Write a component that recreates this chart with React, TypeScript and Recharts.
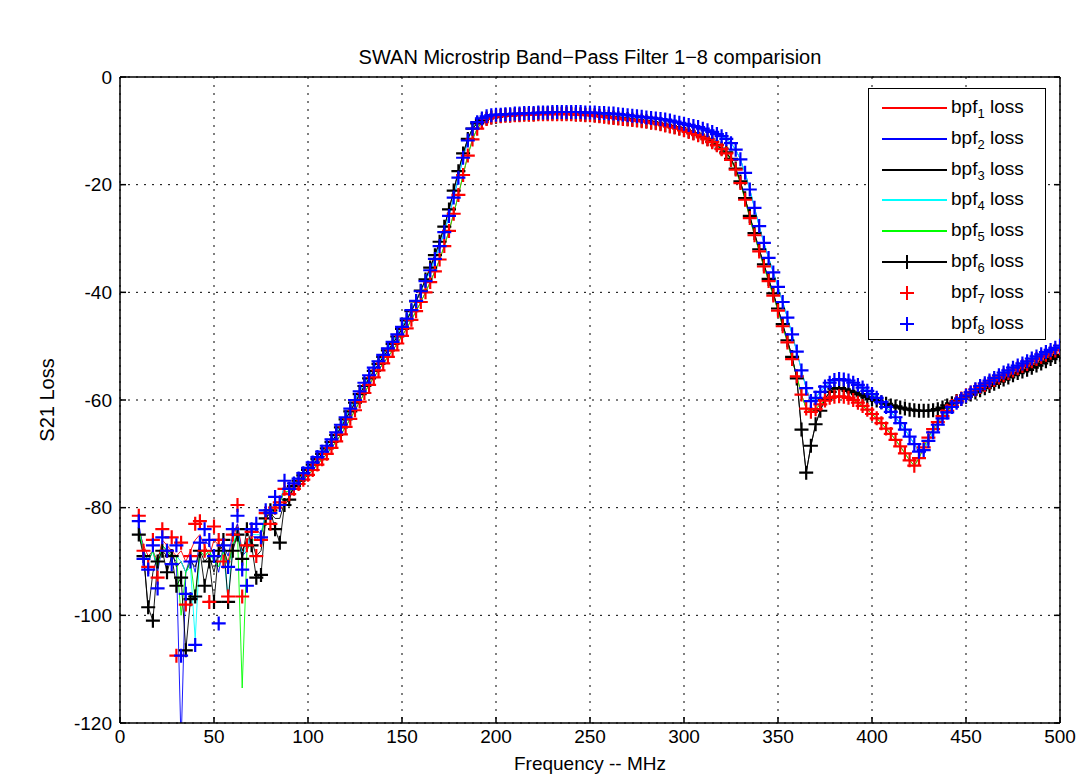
// SWAN microstrip band-pass filter comparison (S21 vs frequency)
import React from "react";
import { ComposedChart, Line, XAxis, YAxis, CartesianGrid } from "recharts";

const FONT = '"Liberation Sans", Arial, Helvetica, sans-serif';

// frequency (MHz) — noisy low-band part and the rest
const FREQ_LOW = [
  10, 12.5, 15, 17.5, 20, 22.5, 25, 27.5, 30, 32.5, 35, 37.5, 40, 42.5, 45, 47.5, 50,
  52.5, 55, 57.5, 60, 62.5, 65, 67.5, 70, 72.5, 75, 77.5, 80, 82.5, 85, 87.5, 90,
];
const FREQ_HIGH = [
  92.5, 95, 97.5, 100, 102.5, 105, 107.5, 110, 112.5, 115, 117.5, 120, 122.5, 125, 127.5, 130,
  132.5, 135, 137.5, 140, 142.5, 145, 147.5, 150, 152.5, 155, 157.5, 160, 162.5, 165, 167.5, 170,
  172.5, 175, 177.5, 180, 182.5, 185, 187.5, 190, 192.5, 195, 197.5, 200,
  202.5, 205, 207.5, 210, 212.5, 215, 217.5, 220, 222.5, 225, 227.5, 230, 232.5, 235, 237.5, 240,
  242.5, 245, 247.5, 250, 252.5, 255, 257.5, 260, 262.5, 265, 267.5, 270, 272.5, 275, 277.5, 280,
  282.5, 285, 287.5, 290, 292.5, 295, 297.5, 300, 302.5, 305, 307.5, 310, 312.5, 315, 317.5, 320,
  322.5, 325, 327.5, 330, 332.5, 335, 337.5, 340, 342.5, 345, 347.5, 350, 352.5, 355, 357.5, 360,
  362.5, 365, 367.5, 370, 372.5, 375, 377.5, 380,
  382.5, 385, 387.5, 390, 392.5, 395, 397.5, 400, 402.5, 405, 407.5, 410, 412.5, 415, 417.5, 420,
  422.5, 425, 427.5, 430, 432.5, 435, 437.5, 440, 442.5, 445, 447.5, 450, 452.5, 455, 457.5, 460,
  462.5, 465, 467.5, 470, 472.5, 475, 477.5, 480, 482.5, 485, 487.5, 490, 492.5, 495, 497.5, 500,
];

const X_TICKS = [0, 50, 100, 150, 200, 250, 300, 350, 400, 450, 500];
const Y_TICKS = [-120, -100, -80, -60, -40, -20, 0];

// S21 loss (dB), 10–90 MHz, per filter
const BPF1_LOW = [-84, -87, -89, -88, -90, -86, -87, -88, -89, -88, -90, -88, -86, -85, -87, -89, -86, -87, -88, -90, -86, -83, -88, -86, -85, -86, -85, -82, -82, -80, -79, -77, -77.5];
const BPF2_LOW = [-83, -88, -90, -88, -92, -87, -88, -89, -90, -124, -92, -89, -92, -86, -86, -87, -89, -92, -87, -89, -85, -83, -89, -88, -85, -84, -85, -81, -81, -79, -79, -76, -76.5];
const BPF3_LOW = [-85, -88, -99.5, -92, -89, -88, -89, -88, -91, -90, -92, -90, -91, -88, -90, -89, -92, -88, -87, -91, -87, -85, -88, -86, -86, -89, -88, -82, -81, -82, -82, -79, -78];
const BPF4_LOW = [-84, -88, -90, -88, -91, -87, -88, -89, -89, -90, -92, -91, -104.5, -88, -89, -88, -90, -91, -88, -97, -87, -84, -89, -87, -85, -85, -85, -81, -81, -79, -79, -76, -77];
const BPF5_LOW = [-84, -88, -90, -88, -91, -87, -88, -89, -89, -100, -92, -90, -97, -88, -89, -88, -90, -91, -88, -91, -87, -85, -113.5, -88, -86, -86, -85, -82, -82, -80, -79, -77, -77];
const BPF6_LOW = [-85, -89, -98.5, -101, -90, -88, -92, -89, -94.5, -93, -106.5, -97, -96.5, -88, -94.5, -90, -97.5, -88, -86, -97.5, -88, -85, -89.5, -84, -87, -93, -92.5, -82, -80.5, -84, -86.5, -79.5, -78.5];
const BPF7_LOW = [-81.5, -88, -91, -86, -93, -84, -88, -85.5, -107.5, -86.5, -98, -89, -83, -82.5, -88, -97.5, -83.5, -86, -90, -96.5, -85, -79.5, -96.5, -87, -84.5, -89, -86, -81, -83, -80, -79, -76.5, -77.5];
const BPF8_LOW = [-82.5, -89.5, -91.5, -87, -95, -85.5, -88, -90.5, -87, -107.5, -96, -90, -105.5, -86.5, -84, -86, -89, -101.5, -87, -91, -84, -81.5, -91.5, -94.5, -84, -83, -85.5, -80.5, -81, -78, -79.5, -75, -76.5];

// S21 loss (dB), 92.5–500 MHz: red, blue and black traces
const RED_HIGH = [
  -76.5, -75.6, -74.8, -73.9, -73, -72, -71, -70, -68.9, -67.7,
  -66.4, -65, -63.5, -61.9, -60.3, -58.7, -57.2, -55.8, -54.5, -53.2,
  -52, -50.8, -49.5, -48.1, -46.7, -45.1, -43.5, -41.8,
  -40, -38.1, -36.1, -33.9, -31.4, -28.6, -25.4, -21.9, -18.2, -14.6, -11.6, -9.6, -8.4, -7.8, -7.5, -7.3,
  -7.3, -7.2, -7.2, -7.1, -7.1, -7.0, -7.0, -7.0, -6.9, -6.9,
  -6.9, -6.9, -6.9, -6.9, -6.9, -6.9, -7, -7, -7.1, -7.1,
  -7.2, -7.3, -7.4, -7.5, -7.6, -7.7, -7.8, -7.9, -8, -8.1,
  -8.2, -8.3, -8.5, -8.6, -8.8, -9, -9.2, -9.4, -9.6, -9.9,
  -10.2, -10.5, -10.8, -11.2, -11.6, -12.1, -12.7, -13.4,
  -14.2, -15.4, -17.2, -19.7, -22.8, -26.2, -29.4, -32.4, -35.2, -37.9,
  -40.6, -43.4, -46.3, -49.3, -52.4, -55.6, -59, -61.6, -62.2, -61.7,
  -60.8, -60.1, -59.6, -59.4,
  -59.3, -59.4, -59.6, -60, -60.5, -61.1, -61.8, -62.6, -63.4, -64.3,
  -65.3, -66.3, -67.4, -68.6, -69.9, -71.2, -72.2, -70.8, -68.8, -67,
  -65.4, -64.1, -63, -62, -61.1, -60.3, -59.7, -59.1, -58.6, -58.1,
  -57.6, -57.2, -56.7, -56.3, -55.8, -55.4, -55, -54.5, -54.1, -53.7,
  -53.3, -52.8, -52.4, -52, -51.6, -51.2, -50.8, -50.4,
];
const BLUE_HIGH = [
  -75.5, -74.6, -73.6, -72.6, -71.6, -70.6, -69.6, -68.5, -67.3, -66,
  -64.6, -63.2, -61.6, -60, -58.4, -56.8, -55.4, -54, -52.8, -51.6,
  -50.4, -49.2, -47.8, -46.4, -44.9, -43.3, -41.6, -39.8,
  -37.9, -35.9, -33.8, -31.4, -28.8, -25.8, -22.4, -18.7, -15, -11.8, -9.6, -8.4, -7.7, -7.3, -7.1, -7.0,
  -7.0, -6.9, -6.9, -6.8, -6.8, -6.7, -6.7, -6.7, -6.6, -6.6,
  -6.6, -6.5, -6.5, -6.5, -6.5, -6.5, -6.5, -6.5, -6.6, -6.6,
  -6.6, -6.7, -6.7, -6.8, -6.8, -6.9, -7, -7.1, -7.2, -7.3,
  -7.4, -7.5, -7.6, -7.7, -7.8, -7.9, -8.1, -8.3, -8.5, -8.7,
  -8.9, -9.1, -9.3, -9.6, -9.9, -10.2, -10.6, -11.0,
  -11.5, -12.3, -13.5, -15.3, -17.8, -20.9, -24.3, -27.7, -30.8, -33.6,
  -36.3, -39, -41.8, -44.7, -47.8, -51, -54.5, -57.8, -60.2, -59.6,
  -58.5, -57.5, -56.8, -56.3,
  -56.1, -56.2, -56.4, -56.8, -57.2, -57.7, -58.3, -58.9, -59.6, -60.4,
  -61.3, -62.2, -63.2, -64.3, -65.5, -66.8, -68.2, -69.6, -69.3, -67.6,
  -66, -64.6, -63.4, -62.3, -61.3, -60.5, -59.8, -59.2, -58.6, -58,
  -57.4, -56.9, -56.4, -55.9, -55.4, -54.9, -54.5, -54, -53.6, -53.2,
  -52.8, -52.3, -51.9, -51.5, -51.1, -50.7, -50.3, -49.9,
];
const BLACK_HIGH = [
  -76, -75, -74, -73, -72, -71, -70, -69, -67.8, -66.5,
  -65.1, -63.6, -62.1, -60.5, -58.9, -57.4, -56, -54.6, -53.3, -52,
  -50.8, -49.6, -48.2, -46.8, -45.2, -43.5, -41.7, -39.7,
  -37.6, -35.4, -33.1, -30.6, -27.8, -24.6, -21.1, -17.5, -14.2, -11.5, -9.6, -8.6, -8, -7.7, -7.5, -7.4,
  -7.2, -7.1, -7.1, -7, -7, -6.9, -6.9, -6.9, -6.8, -6.8,
  -6.8, -6.8, -6.8, -6.8, -6.8, -6.8, -6.9, -6.9, -7, -7,
  -7.1, -7.2, -7.3, -7.4, -7.5, -7.6, -7.7, -7.8, -7.9, -8,
  -8.1, -8.2, -8.4, -8.5, -8.7, -8.9, -9.1, -9.3, -9.5, -9.8,
  -10.1, -10.4, -10.7, -11.1, -11.5, -12, -12.6, -13.3,
  -14, -15.2, -17, -19.4, -22.5, -25.8, -29, -32, -34.8, -37.5,
  -40.2, -43, -45.9, -48.9, -52, -56, -65.5, -73.5, -68.5, -64.5,
  -62, -59.8, -58.5, -57.9,
  -57.8, -58, -58.3, -58.6, -58.9, -59.2, -59.5, -59.8, -60.1, -60.4,
  -60.7, -61, -61.2, -61.4, -61.6, -61.8, -61.9, -62, -62, -62,
  -61.9, -61.7, -61.4, -61, -60.6, -60.2, -59.8, -59.4, -59, -58.6,
  -58.2, -57.8, -57.4, -57, -56.6, -56.2, -55.8, -55.4, -55, -54.7,
  -54.4, -54, -53.6, -53.2, -52.8, -52.4, -52, -51.6,
];

const FREQ = [...FREQ_LOW, ...FREQ_HIGH];

function toPoints(low: number[], high: number[]) {
  const vals = [...low, ...high];
  return FREQ.map((f, i) => ({ f, v: vals[i] }));
}

type Kind = "line" | "lineplus" | "plus";

const SERIES: { id: string; color: string; kind: Kind; data: { f: number; v: number }[] }[] = [
  { id: "1", color: "#ff0000", kind: "line", data: toPoints(BPF1_LOW, RED_HIGH) },
  { id: "2", color: "#0000ff", kind: "line", data: toPoints(BPF2_LOW, BLUE_HIGH) },
  { id: "3", color: "#000000", kind: "line", data: toPoints(BPF3_LOW, BLACK_HIGH) },
  { id: "4", color: "#00ffff", kind: "line", data: toPoints(BPF4_LOW, BLUE_HIGH) },
  { id: "5", color: "#00ff00", kind: "line", data: toPoints(BPF5_LOW, RED_HIGH) },
  { id: "6", color: "#000000", kind: "lineplus", data: toPoints(BPF6_LOW, BLACK_HIGH) },
  { id: "7", color: "#ff0000", kind: "plus", data: toPoints(BPF7_LOW, RED_HIGH) },
  { id: "8", color: "#0000ff", kind: "plus", data: toPoints(BPF8_LOW, BLUE_HIGH) },
];

// matlab style "+" marker
const plusDot = (color: string) => (props: any) => {
  const { cx, cy, index } = props;
  if (cx == null || cy == null) return <g key={`p${index}`} />;
  return (
    <path
      key={`p${index}`}
      d={`M${cx - 7},${cy}H${cx + 7}M${cx},${cy - 7}V${cy + 7}`}
      stroke={color}
      strokeWidth={2.2}
      fill="none"
    />
  );
};

const tickStyle = { fontSize: 19, fill: "#000", fontFamily: FONT };
const noLabel = () => null;

function LegendBox() {
  return (
    <div
      style={{
        position: "absolute",
        left: 868,
        top: 88,
        width: 176,
        height: 250,
        border: "1.5px solid #000",
        background: "#fff",
        fontFamily: FONT,
        fontSize: 19,
      }}
    >
      {SERIES.map((s, i) => (
        <div
          key={s.id}
          style={{ position: "absolute", left: 0, top: 4 + i * 30.8, height: 30, width: 176 }}
        >
          <svg width={80} height={30} style={{ position: "absolute", left: 0, top: 0 }}>
            {s.kind !== "plus" && (
              <line x1={13} x2={78} y1={15} y2={15} stroke={s.color} strokeWidth={2} />
            )}
            {s.kind !== "line" && (
              <path d="M38,8V22M31,15H45" stroke={s.color} strokeWidth={2} fill="none" />
            )}
          </svg>
          <span style={{ position: "absolute", left: 82, top: 3, whiteSpace: "nowrap" }}>
            bpf<sub style={{ fontSize: 13 }}>{s.id}</sub> loss
          </span>
        </div>
      ))}
    </div>
  );
}

export default function App() {
  return (
    <div
      style={{
        position: "absolute",
        left: 0,
        top: 0,
        width: 1080,
        height: 776,
        background: "#fff",
        fontFamily: FONT,
      }}
    >
      <ComposedChart width={1080} height={776} margin={{ top: 76, right: 19, bottom: 23, left: 80 }}>
        <CartesianGrid stroke="#000" strokeDasharray="2 6" strokeWidth={1} />
        <XAxis
          type="number"
          dataKey="f"
          domain={[0, 500]}
          ticks={X_TICKS}
          interval={0}
          allowDataOverflow
          height={30}
          tickSize={-6}
          tickMargin={13}
          tick={tickStyle}
          axisLine={{ stroke: "#000", strokeWidth: 1.5 }}
          tickLine={{ stroke: "#000", strokeWidth: 1.5 }}
        />
        <XAxis
          xAxisId="top"
          orientation="top"
          type="number"
          domain={[0, 500]}
          ticks={X_TICKS}
          interval={0}
          allowDataOverflow
          height={1}
          tickSize={-6}
          tick={noLabel}
          axisLine={{ stroke: "#000", strokeWidth: 1.5 }}
          tickLine={{ stroke: "#000", strokeWidth: 1.5 }}
        />
        <YAxis
          type="number"
          domain={[-120, 0]}
          ticks={Y_TICKS}
          interval={0}
          allowDataOverflow
          width={40}
          tickSize={-6}
          tickMargin={14}
          tick={tickStyle}
          axisLine={{ stroke: "#000", strokeWidth: 1.5 }}
          tickLine={{ stroke: "#000", strokeWidth: 1.5 }}
        />
        <YAxis
          yAxisId="right"
          orientation="right"
          type="number"
          domain={[-120, 0]}
          ticks={Y_TICKS}
          interval={0}
          allowDataOverflow
          width={1}
          tickSize={-6}
          tick={noLabel}
          axisLine={{ stroke: "#000", strokeWidth: 1.5 }}
          tickLine={{ stroke: "#000", strokeWidth: 1.5 }}
        />
        {SERIES.map((s) => (
          <Line
            key={s.id}
            data={s.data}
            dataKey="v"
            name={`bpf${s.id} loss`}
            type="linear"
            stroke={s.kind === "plus" ? "none" : s.color}
            strokeWidth={0.9}
            dot={s.kind === "line" ? false : plusDot(s.color)}
            activeDot={false}
            isAnimationActive={false}
          />
        ))}
      </ComposedChart>

      <div
        style={{
          position: "absolute",
          left: 0,
          width: 1180,
          top: 45,
          textAlign: "center",
          fontSize: 20,
          lineHeight: "24px",
        }}
      >
        SWAN Microstrip Band−Pass Filter 1−8 comparision
      </div>
      <div
        style={{
          position: "absolute",
          left: 0,
          width: 1180,
          top: 753,
          textAlign: "center",
          fontSize: 19,
          lineHeight: "21px",
        }}
      >
        Frequency -- MHz
      </div>
      <div
        style={{
          position: "absolute",
          left: 47,
          top: 400,
          fontSize: 20,
          lineHeight: "24px",
          whiteSpace: "nowrap",
          transform: "translate(-50%, -50%) rotate(-90deg)",
        }}
      >
        S21 Loss
      </div>
      <LegendBox />
    </div>
  );
}
